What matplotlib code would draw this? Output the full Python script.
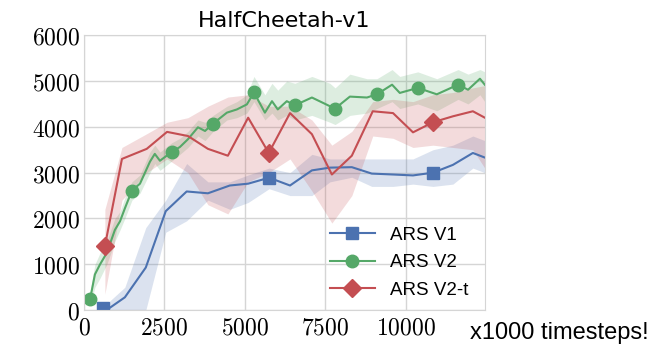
import matplotlib
matplotlib.use("Agg")
import matplotlib.pyplot as plt
from matplotlib.ticker import FuncFormatter

plt.rcParams['mathtext.fontset'] = 'cm'

# ARS V1 (blue)
v1_x = [600, 800, 1270, 1920, 2540, 3190, 3850, 4530, 5100, 5750, 6400, 7080, 7640, 8320,
        8940, 9600, 10220, 10840, 11460, 12080, 12450]
v1_y = [40, 50, 280, 930, 2160, 2590, 2550, 2720, 2760, 2890, 2720, 3050, 3110, 3120,
        2980, 2960, 2940, 3000, 3170, 3430, 3330]
v1_lo = [0, 0, 0, 0, 1700, 1950, 2400, 2200, 2350, 2650, 2500, 2500, 2800, 2900,
         2700, 2700, 2750, 2700, 2750, 3100, 3000]
v1_hi = [100, 200, 500, 1800, 2400, 3200, 2800, 2800, 2950, 3100, 3000, 3400, 3300, 3300,
         3300, 3300, 3300, 3500, 3600, 3800, 3700]

# ARS V2 (green)
v2_x = [190, 340, 500, 710, 960, 1120, 1270, 1490, 1740, 2050, 2200, 2360, 2720, 2980,
        3230, 3540, 3760, 4010, 4440, 4750, 5060, 5280, 5620, 5840, 6020, 6300, 6550,
        7080, 7640, 7800, 8260, 8790, 9100, 9570, 9810, 10370, 10960, 11620, 11930,
        12300, 12450]
v2_y = [240, 780, 1000, 1250, 1750, 1940, 2220, 2610, 2760, 3240, 3410, 3260, 3450, 3560,
        3730, 3990, 3910, 4070, 4310, 4380, 4490, 4750, 4310, 4560, 4380, 4560, 4470,
        4640, 4450, 4400, 4660, 4640, 4710, 4920, 4740, 4850, 4710, 4920, 4810,
        5050, 4920]
v2_lo = [100, 500, 700, 1000, 1500, 1750, 2000, 2400, 2550, 3000, 3200, 3050, 3250, 3400,
         3550, 3800, 3700, 3900, 4150, 4200, 4300, 4550, 4150, 4300, 4150, 4250, 4150,
         4250, 4100, 4050, 4250, 4300, 4400, 4550, 4400, 4500, 4350, 4600, 4500,
         4700, 4550]
v2_hi = [400, 1000, 1250, 1500, 2000, 2150, 2450, 2800, 2950, 3450, 3600, 3450, 3650, 3750,
         3900, 4150, 4100, 4250, 4450, 4550, 4700, 5100, 4700, 4950, 4800, 5000, 4950,
         5100, 4950, 4850, 5150, 5050, 5050, 5250, 5100, 5200, 5050, 5250, 5150,
         5250, 5200]

# ARS V2-t (red)
v2t_x = [650, 1180, 1950, 2580, 3230, 3850, 4470, 5100, 5740, 6400, 7080, 7700, 8320,
         8970, 9600, 10220, 10840, 11460, 12080, 12450]
v2t_y = [1400, 3300, 3520, 3890, 3800, 3520, 3370, 4200, 3430, 4300, 3840, 2960, 3370,
         4340, 4300, 3880, 4100, 4230, 4340, 4200]
v2t_lo = [350, 2400, 3000, 3300, 3000, 2300, 2100, 2800, 3000, 3300, 2600, 1900, 2500,
          3800, 3750, 3550, 3600, 3550, 3500, 3100]
v2t_hi = [2200, 3550, 3850, 4100, 4200, 4450, 4650, 4700, 4450, 4450, 4150, 3600, 3900,
          4550, 4600, 4550, 4700, 4750, 4850, 4900]

labels = ['ARS V1', 'ARS V2', 'ARS V2-t']
colors = ['#4C72B0', '#55A868', '#C44E52']

fig = plt.figure(figsize=(6.56, 3.45), dpi=100)
ax = fig.add_axes([0.128, 0.101, 0.611, 0.797])

ax.fill_between(v1_x, v1_lo, v1_hi, color=colors[0], alpha=0.2, linewidth=0)
ax.fill_between(v2_x, v2_lo, v2_hi, color=colors[1], alpha=0.2, linewidth=0)
ax.fill_between(v2t_x, v2t_lo, v2t_hi, color=colors[2], alpha=0.2, linewidth=0)

ax.plot(v1_x, v1_y, color=colors[0], lw=1.5, marker='s', markersize=8,
        markevery=[0, 9, 17], label=labels[0])
ax.plot(v2_x, v2_y, color=colors[1], lw=1.5, marker='o', markersize=9,
        markevery=[0, 7, 12, 17, 21, 26, 29, 32, 35, 37], label=labels[1])
ax.plot(v2t_x, v2t_y, color=colors[2], lw=1.5, marker='D', markersize=9,
        markevery=[0, 8, 16], label=labels[2])

ax.set_xlim(0, 12450)
ax.set_ylim(0, 6000)
ax.set_xticks([0, 2500, 5000, 7500, 10000])
ax.set_yticks([0, 1000, 2000, 3000, 4000, 5000, 6000])
fmt = FuncFormatter(lambda v, p: r'$%d$' % v)
ax.xaxis.set_major_formatter(fmt)
ax.yaxis.set_major_formatter(fmt)
ax.tick_params(labelsize=17, length=0)
ax.tick_params(axis='x', pad=4)
ax.tick_params(axis='y', pad=3)
ax.grid(True, color='#d5d5d5', linewidth=1)
ax.set_axisbelow(True)
for s in ax.spines.values():
    s.set_color('#d5d5d5')

ax.set_title('HalfCheetah-v1', fontsize=16, family='DejaVu Sans', pad=6)

ax.legend(loc='lower right', frameon=False, handlelength=2.4,
          prop={'family': 'Liberation Sans', 'size': 13.5},
          bbox_to_anchor=(1.0, -0.02), labelspacing=0.55)

fig.text(0.717, 0.018, 'x1000 timesteps!', fontsize=17, family='Liberation Sans')

fig.savefig('out.png', dpi=100)
